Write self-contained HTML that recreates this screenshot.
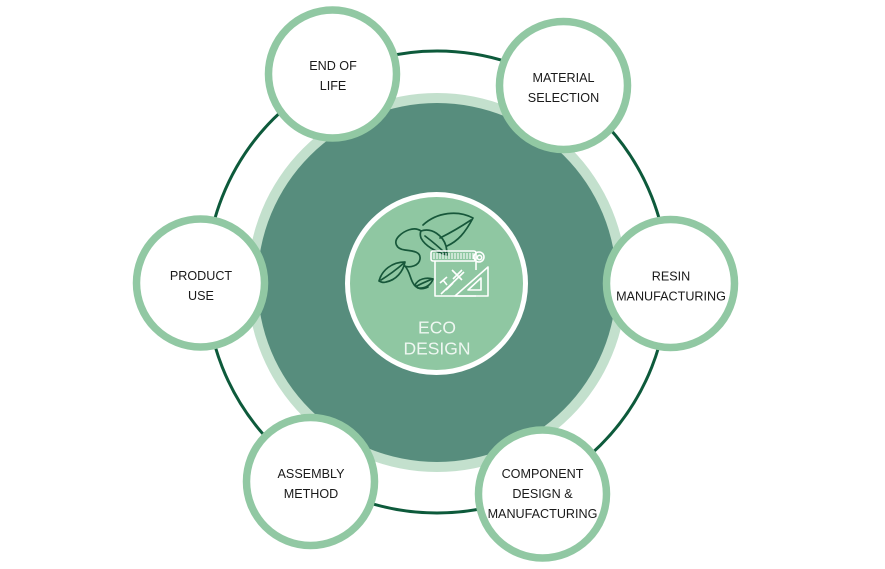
<!DOCTYPE html>
<html>
<head>
<meta charset="utf-8">
<style>
  html,body{margin:0;padding:0;background:#ffffff;}
  body{width:885px;height:569px;overflow:hidden;}
  svg{display:block;}
  .lbl{font-family:"Liberation Sans",Arial,sans-serif;font-size:12.6px;fill:#1a1a1a;text-anchor:middle;}
  .eco{font-family:"Liberation Sans",Arial,sans-serif;font-size:17.5px;fill:#eef7f1;text-anchor:middle;}
</style>
</head>
<body>
<svg width="885" height="569" viewBox="0 0 885 569" xmlns="http://www.w3.org/2000/svg">
  <!-- outer thin ring -->
  <circle cx="437" cy="282" r="231" fill="none" stroke="#0d5a3b" stroke-width="3"/>
  <!-- light ring -->
  <circle cx="437" cy="282.5" r="189.5" fill="#c3e0cd"/>
  <!-- dark teal disc -->
  <circle cx="437" cy="282.5" r="179.5" fill="#578d7d"/>
  <!-- inner circle -->
  <circle cx="436.5" cy="283.5" r="89" fill="#8fc7a2" stroke="#ffffff" stroke-width="5"/>

  <!-- icon: vine & leaves -->
  <g fill="none" stroke="#17573a" stroke-width="1.7" stroke-linecap="round" stroke-linejoin="round">
    <!-- top-right leaf -->
    <path d="M423,225 C437,212 458,210 473,218 C465,233 458,241 447,246"/>
    <path d="M440,238 C452,232 462,226 471,220"/>
    <!-- middle leaf -->
    <path d="M421,231 C432,227 443,236 446,246 C447,250 447,253 447,255 C436,252 425,246 421,238 C420,235 420,233 421,231 Z"/>
    <path d="M425,236 C433,242 440,248 446,254"/>
    <!-- vine loops -->
    <path d="M421,231 C414,226 404,231 399,236 C393,242 396,249 405,250 C414,251 421,252 420,259 C419,266 410,268 404,266"/>
    <path d="M405,266 C410,272 410,278 413,283 C416,289 422,290 428,287"/>
    <!-- left leaf -->
    <path d="M379,281 C382,270 392,262 405,262 C403,272 396,280 386,282 C383,283 381,282 379,281 Z"/>
    <path d="M381,280 C389,275 397,269 404,263"/>
    <!-- small leaf -->
    <path d="M415,285 C418,279 426,277 433,279 C431,285 425,289 418,288 Z"/>
    <path d="M417,286 C422,283 428,281 432,279"/>
  </g>

  <!-- icon: scroll / drawing board -->
  <g fill="none" stroke="#ffffff" stroke-width="1.6" stroke-linejoin="round">
    <path d="M435,261 V296 H476 M476,261 V270"/>
    <rect x="431" y="251" width="45" height="10" rx="2"/>
    <path d="M434,253 V259 M437,253 V259 M440,253 V259 M443,253 V259 M446,253 V259 M449,253 V259 M452,253 V259 M455,253 V259 M458,253 V259 M461,253 V259 M464,253 V259 M467,253 V259 M470,253 V259 M473,253 V259" stroke-width="1.1"/>
    <circle cx="479" cy="257" r="5"/>
    <circle cx="479.5" cy="257.5" r="2.2"/>
    <!-- inner drawing -->
    <path d="M440,283 L447,277 M443,280 L447,285 M446,290 L453,283 M441,294 L464,272 M452,270 L462,280 M462,270 L453,279"/>
    <!-- set square -->
    <path d="M455,296 L488,267 L488,296 Z"/>
    <path d="M468,290 L481,278 L481,290 Z"/>
  </g>

  <text class="eco" x="437" y="333.5">ECO</text>
  <text class="eco" x="437" y="354.5">DESIGN</text>

  <!-- satellites -->
  <g fill="#ffffff" stroke="#91c8a3" stroke-width="7.5">
    <circle cx="332.5" cy="74" r="64"/>
    <circle cx="563.5" cy="85.5" r="64"/>
    <circle cx="200.5" cy="283" r="64"/>
    <circle cx="670.5" cy="283.5" r="64"/>
    <circle cx="310.5" cy="481.5" r="64"/>
    <circle cx="542.5" cy="494" r="64"/>
  </g>

  <text class="lbl" x="333" y="70">END OF</text>
  <text class="lbl" x="333" y="90">LIFE</text>

  <text class="lbl" x="563.5" y="82">MATERIAL</text>
  <text class="lbl" x="563.5" y="102">SELECTION</text>

  <text class="lbl" x="201" y="280">PRODUCT</text>
  <text class="lbl" x="201" y="300">USE</text>

  <text class="lbl" x="671" y="280.5">RESIN</text>
  <text class="lbl" x="671" y="300.5">MANUFACTURING</text>

  <text class="lbl" x="311" y="478">ASSEMBLY</text>
  <text class="lbl" x="311" y="498">METHOD</text>

  <text class="lbl" x="542.5" y="478">COMPONENT</text>
  <text class="lbl" x="542.5" y="498">DESIGN &amp;</text>
  <text class="lbl" x="542.5" y="518">MANUFACTURING</text>
</svg>
</body>
</html>
